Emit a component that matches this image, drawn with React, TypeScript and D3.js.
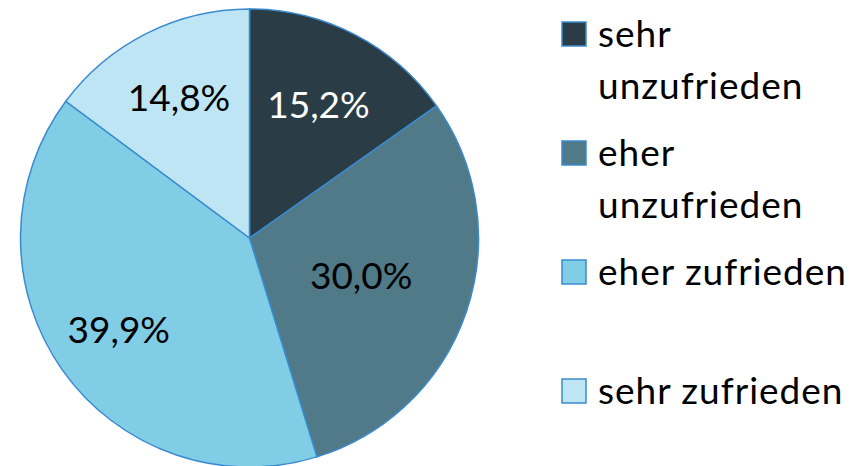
import React from "react";
import * as d3 from "d3";

// categories and shares (percent)
const categories = ["sehr unzufrieden", "eher unzufrieden", "eher zufrieden", "sehr zufrieden"];
const legendLines = [["sehr", "unzufrieden"], ["eher", "unzufrieden"], ["eher zufrieden"], ["sehr zufrieden"]];
const values = [15.2, 30.0, 39.9, 14.8];
const labels = ["15,2%", "30,0%", "39,9%", "14,8%"];
const colors = ["#2a3d47", "#507a88", "#82cde6", "#bee5f3"];
const labelColors = ["#ffffff", "#000000", "#000000", "#000000"];

const W = 865;
const H = 466;
const FONT = "Lato, 'Open Sans', sans-serif";
// "best fit" label distance from centre, per slice (layout only)
const labelRadius = [150, 118, 160, 157];

const App = () => {
  const cx = 249.5;
  const cy = 238;
  const r = 229;

  const pie = d3.pie<number>().sort(null).value((d) => d);
  const arcs = pie(values);
  const arc = d3.arc<d3.PieArcDatum<number>>().innerRadius(0).outerRadius(r);

  // legend rows
  const legendY = d3.scaleBand<number>().domain(d3.range(categories.length)).range([22, 498]);

  return (
    <svg width={W} height={H} style={{ position: "absolute", left: 0, top: 0 }}>
      <rect width={W} height={H} fill="#ffffff" />
      <g transform={`translate(${cx},${cy})`}>
        {arcs.map((a, i) => (
          <path key={i} d={arc(a) || ""} fill={colors[i]} stroke="#3a8ad0" strokeWidth={1.5} />
        ))}
        {arcs.map((a, i) => {
          const lr = labelRadius[i];
          const [x, y] = d3.arc<d3.PieArcDatum<number>>().innerRadius(lr).outerRadius(lr).centroid(a);
          return (
            <text
              key={i}
              x={x}
              y={y + 13}
              textAnchor="middle"
              fontFamily={FONT}
              fontSize={37}
              fill={labelColors[i]}
            >
              {labels[i]}
            </text>
          );
        })}
      </g>
      <g>
        {categories.map((c, i) => {
          const y0 = legendY(i) as number;
          return (
            <g key={c}>
              <rect x={562} y={y0} width={24} height={24} fill={colors[i]} stroke="#3a8ad0" strokeWidth={1.5} />
              {legendLines[i].map((line, j) => (
                <text
                  key={j}
                  x={598}
                  y={y0 + 25 + j * 52}
                  fontFamily={FONT}
                  fontSize={37}
                  letterSpacing={1}
                  fill="#000"
                >
                  {line}
                </text>
              ))}
            </g>
          );
        })}
      </g>
    </svg>
  );
};

export default App;
